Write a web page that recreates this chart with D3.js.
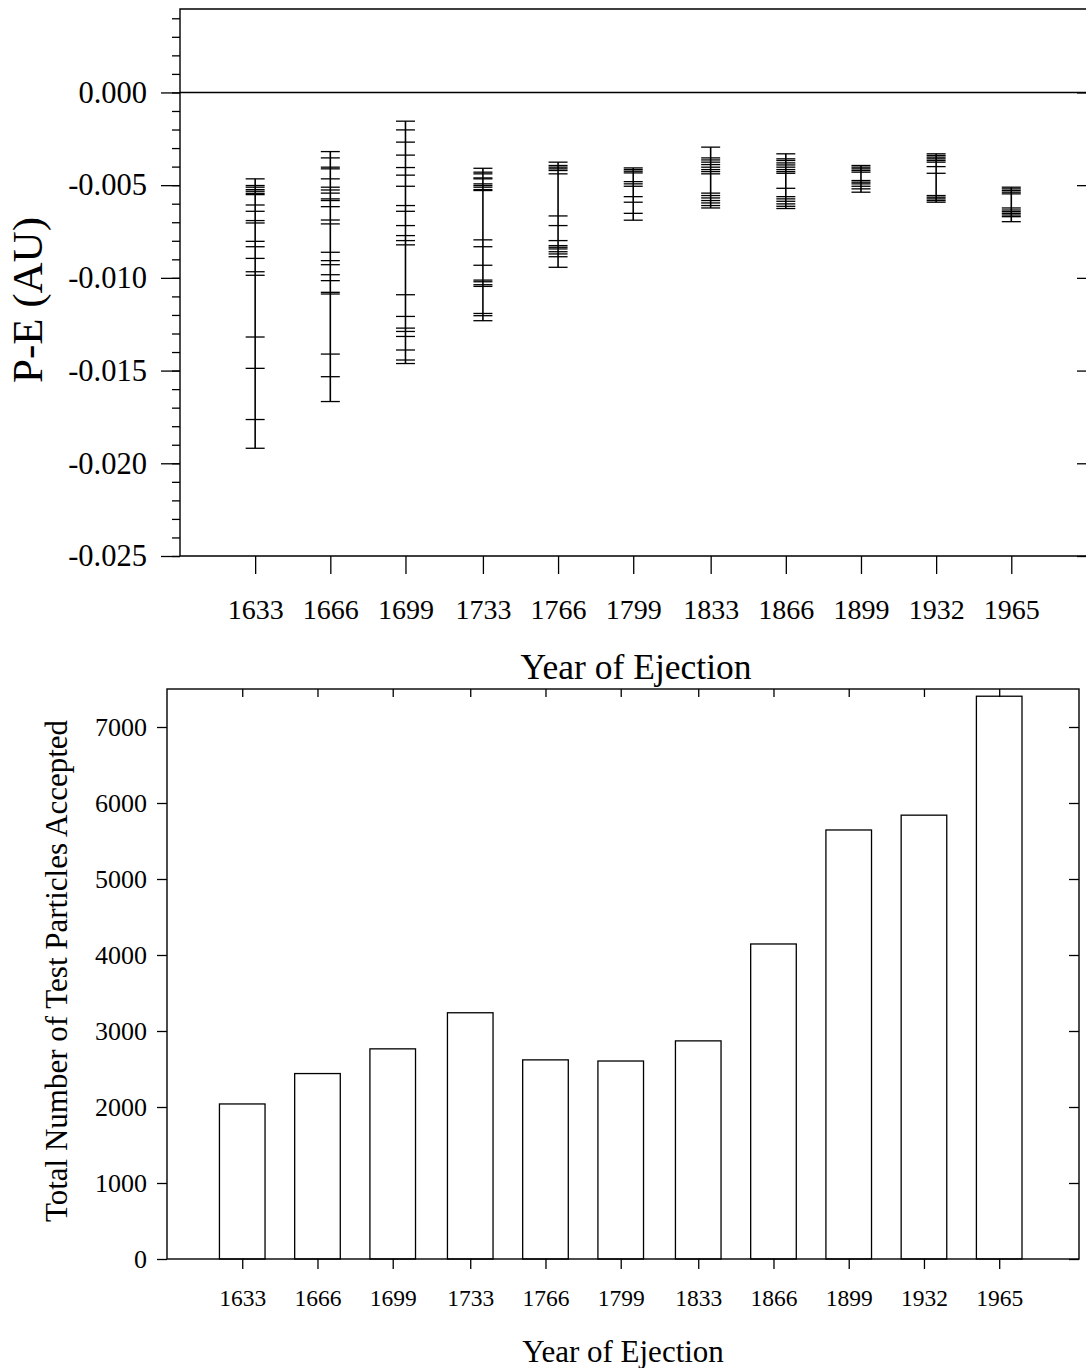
<!DOCTYPE html>
<html>
<head>
<meta charset="utf-8">
<script src="https://cdn.jsdelivr.net/npm/d3@7"></script>
<style>
  body { margin: 0; background: #fff; }
  svg text { font-family: "Liberation Serif", "Times New Roman", serif; fill: #000; }
</style>
</head>
<body>
<svg id="chart" width="1086" height="1368"></svg>
<script>
/**
 * Years of ejection, shared by both panels.
 */
var years = [1633, 1666, 1699, 1733, 1766, 1799, 1833, 1866, 1899, 1932, 1965];

/**
 * P-E values (AU) of the individual dashes in each column of the top panel.
 */
var pe1633 = [-0.00466, -0.00502, -0.00511, -0.00524, -0.00533, -0.00544, -0.00551, -0.00607, -0.00641,
	      -0.00691, -0.00704, -0.00803, -0.00832, -0.00895, -0.00967, -0.00986, -0.01319, -0.01488,
	      -0.01764, -0.01919];
var pe1666 = [-0.00319, -0.00353, -0.00403, -0.00412, -0.00466, -0.00511, -0.00526, -0.00543, -0.00574,
	      -0.00583, -0.00616, -0.00688, -0.00709, -0.00862, -0.00907, -0.00929, -0.00983, -0.01015,
	      -0.01078, -0.01087, -0.01411, -0.01533, -0.01667];
var pe1699 = [-0.00155, -0.00202, -0.00268, -0.00338, -0.00405, -0.00446, -0.00506, -0.00610, -0.00641,
	      -0.00718, -0.00772, -0.00799, -0.00822, -0.01091, -0.01208, -0.01271, -0.01289, -0.01316,
	      -0.01389, -0.01443, -0.01462];
var pe1733 = [-0.00409, -0.00430, -0.00439, -0.00461, -0.00466, -0.00493, -0.00502, -0.00511, -0.00524,
	      -0.00529, -0.00795, -0.00832, -0.00932, -0.01012, -0.01021, -0.01037, -0.01046, -0.01192,
	      -0.01204, -0.01231];
var pe1766 = [-0.00376, -0.00394, -0.00403, -0.00412, -0.00421, -0.00439, -0.00666, -0.00718, -0.00799,
	      -0.00826, -0.00835, -0.00844, -0.00859, -0.00871, -0.00886, -0.00943];
var pe1799 = [-0.00407, -0.00416, -0.00425, -0.00434, -0.00481, -0.00493, -0.00506, -0.00562, -0.00592,
	      -0.00652, -0.00689];
var pe1833 = [-0.00295, -0.00353, -0.00364, -0.00376, -0.00389, -0.00403, -0.00416, -0.00427, -0.00439,
	      -0.00543, -0.00556, -0.00569, -0.00583, -0.00596, -0.00610, -0.00623];
var pe1866 = [-0.00331, -0.00358, -0.00367, -0.00380, -0.00391, -0.00403, -0.00416, -0.00427, -0.00436,
	      -0.00517, -0.00562, -0.00574, -0.00587, -0.00601, -0.00614, -0.00626];
var pe1899 = [-0.00394, -0.00403, -0.00412, -0.00421, -0.00430, -0.00475, -0.00484, -0.00493, -0.00506,
	      -0.00520, -0.00538];
var pe1932 = [-0.00331, -0.00340, -0.00349, -0.00358, -0.00367, -0.00376, -0.00400, -0.00436, -0.00556,
	      -0.00565, -0.00574, -0.00583, -0.00592];
var pe1965 = [-0.00511, -0.00520, -0.00529, -0.00538, -0.00547, -0.00623, -0.00634, -0.00643, -0.00652,
	      -0.00661, -0.00670, -0.00697];
var peSets = [pe1633, pe1666, pe1699, pe1733, pe1766, pe1799, pe1833, pe1866, pe1899, pe1932, pe1965];

/**
 * Total number of test particles accepted, bottom panel.
 */
var counts = [2040, 2440, 2765, 3240, 2620, 2605, 2870, 4145, 5645, 5840, 7405];

/**
 * Tick values.
 */
var peMajor = [-0.025, -0.020, -0.015, -0.010, -0.005, 0.000];
var peMinor = d3.range(-25, 5).map(function (d) { return d / 1000; });
var countTicks = [0, 1000, 2000, 3000, 4000, 5000, 6000, 7000];

var svg = d3.select("#chart");
svg.append("rect").attr("width", 1086).attr("height", 1368).attr("fill", "#fff");

// plain hyphen instead of d3's unicode minus
var fmtPE = function (d) { return d3.format(".3f")(d).replace("\u2212", "-"); };

function styleAxis(g, size) {
    g.select(".domain").remove();
    g.selectAll("line").attr("stroke", "#000").attr("stroke-width", 1.3);
    g.selectAll("text").attr("font-size", size).attr("fill", "#000")
	.attr("font-family", "'Liberation Serif', serif");
}

/**
 * Top panel: P-E per year of ejection.
 */
var xTop = d3.scaleLinear().domain([1600, 2000]).range([180, 1091]);
var yTop = d3.scaleLinear().domain([-0.025, 0.0045]).range([556, 9]);
var topPanel = svg.append("g");

topPanel.append("g").attr("transform", "translate(180,0)")
    .call(d3.axisLeft(yTop).tickValues(peMinor).tickSize(8).tickFormat(""))
    .call(styleAxis, 28);
topPanel.append("g").attr("transform", "translate(180,0)")
    .call(d3.axisLeft(yTop).tickValues(peMajor).tickSize(19).tickPadding(14).tickFormat(fmtPE))
    .call(styleAxis, 30.5);
topPanel.append("g").attr("transform", "translate(1091,0)")
    .call(d3.axisRight(yTop).tickValues(peMinor).tickSize(-5).tickFormat(""))
    .call(styleAxis, 28);
topPanel.append("g").attr("transform", "translate(1091,0)")
    .call(d3.axisRight(yTop).tickValues(peMajor).tickSize(-14).tickFormat(""))
    .call(styleAxis, 28);
topPanel.append("g").attr("transform", "translate(0,556)")
    .call(d3.axisBottom(xTop).tickValues(years).tickSize(18).tickPadding(25).tickFormat(d3.format("d")))
    .call(styleAxis, 28);

/**
 * Frame and zero line.
 */
topPanel.append("path")
    .attr("d", "M180," + yTop(0.0045) + "V" + yTop(-0.025) + "H1091V" + yTop(0.0045) + "Z")
    .attr("fill", "none").attr("stroke", "#000").attr("stroke-width", 1.4);
topPanel.append("line")
    .attr("x1", 180).attr("x2", 1091).attr("y1", yTop(0)).attr("y2", yTop(0))
    .attr("stroke", "#000").attr("stroke-width", 1.4);

/**
 * One column of dashes per year.
 */
var cols = topPanel.selectAll("g.col").data(years).enter().append("g").attr("class", "col");
cols.append("line")
    .attr("x1", function (d) { return xTop(d); }).attr("x2", function (d) { return xTop(d); })
    .attr("y1", function (d, i) { return yTop(d3.max(peSets[i])); })
    .attr("y2", function (d, i) { return yTop(d3.min(peSets[i])); })
    .attr("stroke", "#000").attr("stroke-width", 1.6);
cols.each(function (yr, i) {
    d3.select(this).selectAll("line.dash").data(peSets[i]).enter().append("line")
	.attr("class", "dash")
	.attr("x1", xTop(yr) - 9.5).attr("x2", xTop(yr) + 9.5)
	.attr("y1", function (v) { return yTop(v); }).attr("y2", function (v) { return yTop(v); })
	.attr("stroke", "#000").attr("stroke-width", 1.3);
});

topPanel.append("text")
    .attr("x", 636).attr("y", 679).attr("text-anchor", "middle")
    .attr("font-size", 35.5).text("Year of Ejection");
topPanel.append("text")
    .attr("transform", "translate(42,300) rotate(-90)").attr("text-anchor", "middle")
    .attr("font-size", 43).text("P-E (AU)");

/**
 * Bottom panel: number of accepted test particles.
 */
var xBot = d3.scaleLinear().domain([1600, 2000]).range([167, 1079]);
var yBot = d3.scaleLinear().domain([0, 7500]).range([1259, 689]);
var botPanel = svg.append("g");

botPanel.selectAll("rect.bar").data(years).enter().append("rect")
    .attr("class", "bar")
    .attr("x", function (d) { return xBot(d - 10); })
    .attr("width", function (d) { return xBot(d + 10) - xBot(d - 10); })
    .attr("y", function (d, i) { return yBot(counts[i]); })
    .attr("height", function (d, i) { return yBot(0) - yBot(counts[i]); })
    .attr("fill", "#fff").attr("stroke", "#000").attr("stroke-width", 1.3);

botPanel.append("g").attr("transform", "translate(167,0)")
    .call(d3.axisLeft(yBot).tickValues(countTicks).tickSize(10).tickPadding(10).tickFormat(d3.format("d")))
    .call(styleAxis, 26);
botPanel.append("g").attr("transform", "translate(1079,0)")
    .call(d3.axisRight(yBot).tickValues(countTicks).tickSize(-10).tickFormat(""))
    .call(styleAxis, 23);
botPanel.append("g").attr("transform", "translate(0,1259)")
    .call(d3.axisBottom(xBot).tickValues(years).tickSize(10).tickPadding(20).tickFormat(d3.format("d")))
    .call(styleAxis, 23.5);
botPanel.append("g").attr("transform", "translate(0,689)")
    .call(d3.axisTop(xBot).tickValues(years).tickSize(-8).tickFormat(""))
    .call(styleAxis, 23);
botPanel.append("rect")
    .attr("x", 167).attr("y", 689).attr("width", 1079 - 167).attr("height", 1259 - 689)
    .attr("fill", "none").attr("stroke", "#000").attr("stroke-width", 1.4);

botPanel.append("text")
    .attr("x", 623).attr("y", 1362).attr("text-anchor", "middle")
    .attr("font-size", 31).text("Year of Ejection");
botPanel.append("text")
    .attr("transform", "translate(67,971) rotate(-90)").attr("text-anchor", "middle")
    .attr("font-size", 31).text("Total Number of Test Particles Accepted");
</script>
</body>
</html>
